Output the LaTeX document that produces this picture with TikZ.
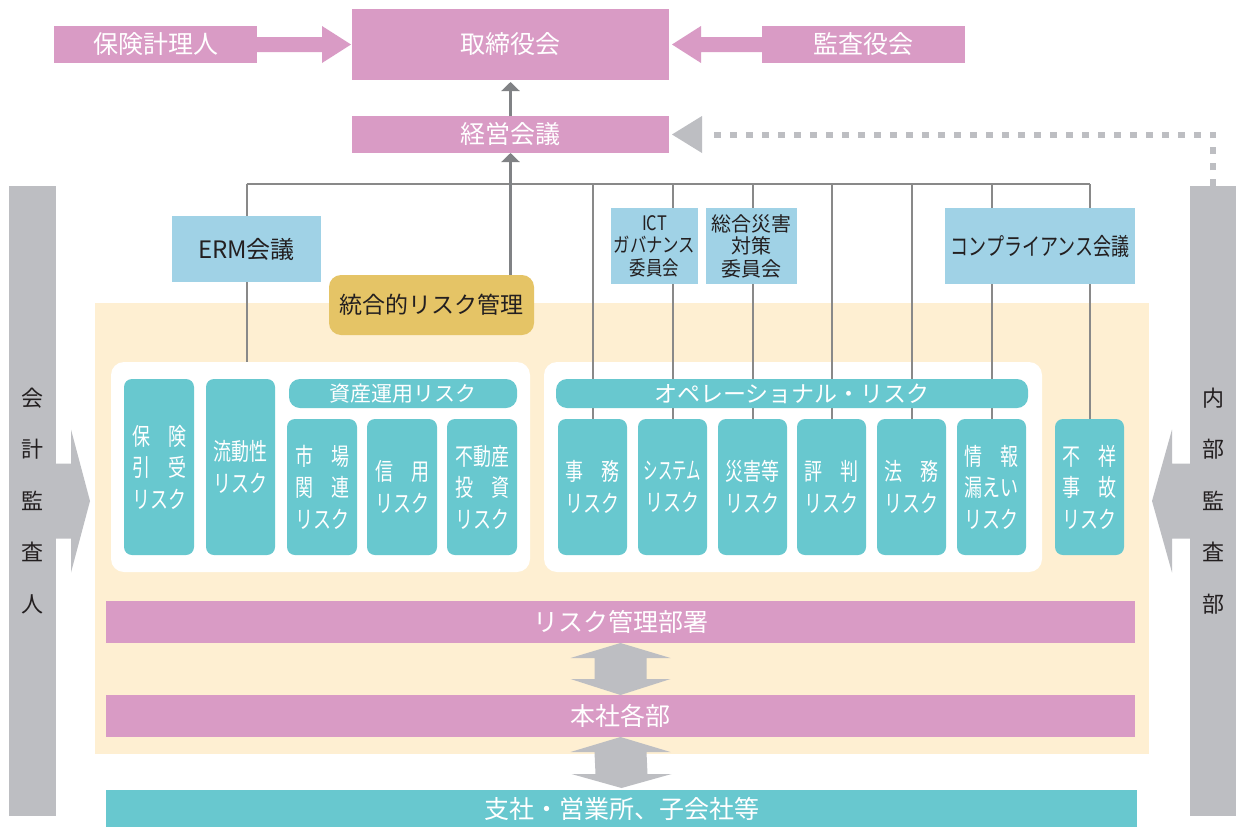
\documentclass[tikz,border=0pt]{standalone}
\usepackage{fontspec}
\setmainfont{Noto Sans CJK JP}
\newfontfamily\condf{Noto Sans CJK JP}[FakeStretch=0.75]
\newfontfamily\condg{Noto Sans CJK JP}[FakeStretch=0.6]
\newfontfamily\condh{Noto Sans CJK JP}[FakeStretch=0.82]
\usetikzlibrary{arrows.meta,calc}
\pgfdeclarelayer{bg}
\pgfdeclarelayer{lines}
\pgfsetlayers{bg,lines,main}
\definecolor{pinkc}{RGB}{217,155,197}
\definecolor{tealc}{RGB}{104,200,207}
\definecolor{bluec}{RGB}{160,210,230}
\definecolor{goldc}{RGB}{229,196,102}
\definecolor{grayc}{RGB}{189,190,194}
\definecolor{peachc}{RGB}{254,239,210}
\definecolor{linec}{RGB}{137,137,137}
\definecolor{arrowc}{RGB}{128,130,133}
\definecolor{darkc}{RGB}{35,31,32}
\begin{document}
\begin{tikzpicture}[x=1pt,y=-1pt,
  box/.style={inner sep=0pt, outer sep=0pt, anchor=north west, align=center},
  pinkbox/.style={box, fill=pinkc, text=white, font=\fontsize{25}{30}\selectfont},
  bluebox/.style={box, fill=bluec, text=darkc},
  riskbox/.style={box, fill=tealc, text=white, rounded corners=8pt, minimum width=69pt,
     font=\condf\fontsize{24}{31.5}\selectfont},
  headbox/.style={box, fill=tealc, text=white, rounded corners=11pt, minimum height=29pt},
  panel/.style={box, fill=white, rounded corners=13pt},
  graybar/.style={box, fill=grayc, text=darkc, font=\fontsize{22}{51.5}\selectfont},
  conn/.style={draw=linec, line width=2pt},
  mainarr/.style={draw=arrowc, line width=3pt, -{Triangle[width=18pt,length=9pt]}},
  fillarr/.style={fill=pinkc},
  grayarr/.style={fill=grayc},
  dotline/.style={draw=grayc, line width=6pt, dash pattern=on 7pt off 9pt}
]
\useasboundingbox (0,0) rectangle (1236,827);

% top
\node[pinkbox, minimum width=203pt, minimum height=37pt] (hoken) at (54,26) {保険計理人};
\node[pinkbox, minimum width=317pt, minimum height=71pt] (tori) at (352,9) {取締役会};
\node[pinkbox, minimum width=203pt, minimum height=37pt] (kansa) at (762,26) {監査役会};
\node[pinkbox, minimum width=317pt, minimum height=37pt] (keiei) at (352,116) {経営会議};

% committees
\node[bluebox, minimum width=149pt, minimum height=66pt, font=\fontsize{24}{28}\selectfont] (erm) at (172,216) {ERM会議};
\node[bluebox, minimum width=87pt, minimum height=76pt, font=\condh\fontsize{20}{22.5}\selectfont] (ict) at (611,208) {ICT\\ガバナンス\\委員会};
\node[bluebox, minimum width=91pt, minimum height=76pt, font=\fontsize{20}{22.5}\selectfont] (sogo) at (706,208) {総合災害\\対策\\委員会};
\node[bluebox, minimum width=190pt, minimum height=76pt, font=\condf\fontsize{24}{28}\selectfont] (comp) at (945,208) {コンプライアンス会議};

\begin{pgfonlayer}{bg}
\fill[white] (0,0) rectangle (1236,827);
\node[box, fill=peachc, minimum width=1054pt, minimum height=451pt] (peach) at (95,303) {};
\node[panel, minimum width=419pt, minimum height=210pt] (lpanel) at (111,362) {};
\node[panel, minimum width=498pt, minimum height=210pt] (rpanel) at (544,362) {};
\end{pgfonlayer}

\node[box, fill=goldc, text=darkc, rounded corners=12pt, minimum width=205pt, minimum height=60pt,
  font=\fontsize{23}{28}\selectfont] (togo) at (329,275) {統合的リスク管理};

% left panel
\node[riskbox, minimum width=70pt, minimum height=176pt] (hikiuke) at (124,379) {保　険\\引　受\\リスク};
\node[riskbox, minimum height=176pt] (ryudo) at (206,379) {流動性\\リスク};
\node[headbox, minimum width=228pt, font=\fontsize{21}{25}\selectfont] (shisan) at (289,379) {資産運用リスク};
\node[riskbox, minimum width=70pt, minimum height=136pt] (shijo) at (287,419) {市　場\\関　連\\リスク};
\node[riskbox, minimum width=70pt, minimum height=136pt] (shinyo) at (367,419) {信　用\\リスク};
\node[riskbox, minimum width=70pt, minimum height=136pt] (fudo) at (447,419) {不動産\\投　資\\リスク};

% right panel
\node[headbox, minimum width=472pt, font=\fontsize{23}{27}\selectfont] (ops) at (556,379) {オペレーショナル・リスク};
\node[riskbox, minimum height=136pt] (jimu) at (558,419) {事　務\\リスク};
\node[riskbox, minimum height=136pt, font=\condg\fontsize{24}{31.5}\selectfont] (sys) at (638,419) {システム\\{\condf リスク}};
\node[riskbox, minimum height=136pt] (saigai) at (718,419) {災害等\\リスク};
\node[riskbox, minimum height=136pt] (hyoban) at (797,419) {評　判\\リスク};
\node[riskbox, minimum height=136pt] (homu) at (877,419) {法　務\\リスク};
\node[riskbox, minimum height=136pt] (joho) at (957,419) {情　報\\漏えい\\リスク};
\node[riskbox, minimum height=136pt] (fusho) at (1055,419) {不　祥\\事　故\\リスク};

% departments
\node[pinkbox, minimum width=1029pt, minimum height=42pt] (riskdept) at (106,601) {リスク管理部署};
\node[pinkbox, minimum width=1029pt, minimum height=42pt] (honsha) at (106,695) {本社各部};
\node[pinkbox, fill=tealc, minimum width=1031pt, minimum height=37pt] (shisha) at (106,790) {支社・営業所、子会社等};

% side bars
\node[graybar, minimum width=47pt, minimum height=630pt] (kaikei) at (9,186) {会\\計\\監\\査\\人};
\node[graybar, minimum width=46pt, minimum height=630pt] (naibu) at (1190,186) {内\\部\\監\\査\\部};

\coordinate (bus) at (0,184);

% connectors
\begin{pgfonlayer}{lines}
\draw[conn] (erm.north |- bus) -- (fusho.north |- bus);
\draw[conn] (erm.north |- bus) -- (erm.north);
\draw[conn] (erm.south) -- (erm.south |- lpanel.north);
\foreach \n in {jimu,sys,saigai,hyoban,homu,joho,fusho}
  \draw[conn] (\n.north |- bus) -- (\n.north);
\end{pgfonlayer}
\draw[mainarr] (keiei.south |- togo.north) -- (keiei.south);
\draw[mainarr, shorten >=2pt] (keiei.north) -- (tori.south);

% block arrows to board
\fill[fillarr] ($(hoken.east)+(0,-7.5)$) -- ($(tori.west)+(-30,-7.5)$) -- ($(tori.west)+(-30,-18.5)$)
  -- ($(tori.west)+(-1,0)$) -- ($(tori.west)+(-30,18.5)$) -- ($(tori.west)+(-30,7.5)$)
  -- ($(hoken.east)+(0,7.5)$) -- cycle;
\fill[fillarr] ($(kansa.west)+(0,-7.5)$) -- ($(tori.east)+(32,-7.5)$) -- ($(tori.east)+(32,-18.5)$)
  -- ($(tori.east)+(3,0)$) -- ($(tori.east)+(32,18.5)$) -- ($(tori.east)+(32,7.5)$)
  -- ($(kansa.west)+(0,7.5)$) -- cycle;

% dotted report line
\coordinate (dotend) at ($(keiei.east)+(37,0)$);
\draw[dotline] (naibu.north) |- (dotend);
\fill[grayarr] ($(keiei.east)+(33,-18.5)$) -- ($(keiei.east)+(3,0)$) -- ($(keiei.east)+(33,18.5)$) -- cycle;

% audit arrows
\fill[grayarr] ($(kaikei.east)+(-1,-37.5)$) -- ($(kaikei.east)+(15,-37.5)$) -- ($(kaikei.east)+(15,-71.5)$)
  -- ($(kaikei.east)+(34,0)$) -- ($(kaikei.east)+(15,71.5)$) -- ($(kaikei.east)+(15,37.5)$)
  -- ($(kaikei.east)+(-1,37.5)$) -- cycle;
\fill[grayarr] ($(naibu.west)+(1,-37.5)$) -- ($(naibu.west)+(-18,-37.5)$) -- ($(naibu.west)+(-18,-71.5)$)
  -- ($(naibu.west)+(-38,0)$) -- ($(naibu.west)+(-18,71.5)$) -- ($(naibu.west)+(-18,37.5)$)
  -- ($(naibu.west)+(1,37.5)$) -- cycle;

% double arrows
\foreach \a/\b/\s in {riskdept/honsha/0, honsha/shisha/2}{
  \fill[grayarr] (\a.south) -- ($(\a.south)+(50,15)$) -- ($(\a.south)+(26,15)$)
    -- ($(\b.north)+(26,-16)$) -- ($(\b.north)+(50,-16)$) -- ($(\b.north)+(0,-\s)$)
    -- ($(\b.north)+(-50,-16)$) -- ($(\b.north)+(-26,-16)$)
    -- ($(\a.south)+(-26,15)$) -- ($(\a.south)+(-50,15)$) -- cycle;
}
\end{tikzpicture}
\end{document}
